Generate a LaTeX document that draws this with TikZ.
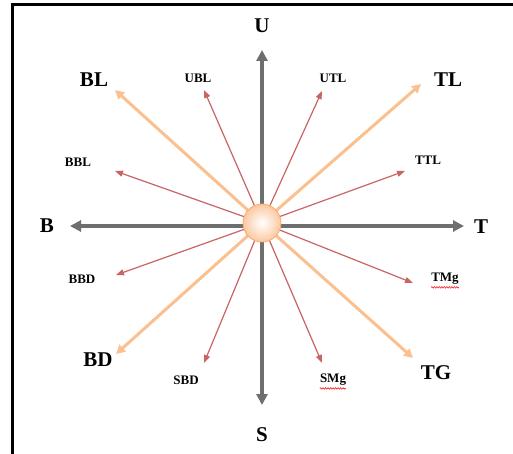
\documentclass[tikz,border=0pt]{standalone}
\usepackage{fontspec}
\setmainfont{Liberation Serif}
\usetikzlibrary{arrows.meta,decorations.pathmorphing}
\definecolor{axisgray}{RGB}{110,110,110}
\definecolor{peach}{RGB}{250,192,144}
\definecolor{redarr}{RGB}{200,100,98}
\definecolor{ballout}{RGB}{251,200,160}
\definecolor{balledge}{RGB}{247,170,110}
\tikzset{
  axisarrow/.style={draw=axisgray, line width=4pt, -{Triangle[length=11pt,width=11pt]}},
  mainarrow/.style={draw=peach, line width=3pt, -{Triangle[length=9pt,width=9pt]}},
  subarrow/.style={draw=redarr, line width=1.2pt, -{Triangle[length=8pt,width=6pt]}},
  biglabel/.style={font=\fontsize{21}{21}\selectfont\bfseries, inner sep=0pt},
  smalllabel/.style={font=\fontsize{13}{13}\selectfont\bfseries, inner sep=0pt},
  squiggle/.style={draw=red, line width=0.5pt, decorate, decoration={snake, amplitude=0.8pt, segment length=2.5pt}}
}
\begin{document}
\begin{tikzpicture}[x=1pt,y=-1pt]
\useasboundingbox (0,0) rectangle (513,454);
% frame (top and left only)
\draw[line width=3pt] (12,454) -- (12,5) -- (513,5);
% center
\coordinate (o) at (262,223);
\coordinate (oh) at (262,226);
% tips
\coordinate (tU) at (262,50);
\coordinate (tS) at (262,405);
\coordinate (tB) at (70,226);
\coordinate (tT) at (464,226);
\coordinate (tBL) at (115,90);
\coordinate (tTL) at (421,84);
\coordinate (tBD) at (116,354);
\coordinate (tTG) at (413,358);
\coordinate (tUBL) at (204,90);
\coordinate (tUTL) at (322,91);
\coordinate (tBBL) at (115,171);
\coordinate (tTTL) at (405,171);
\coordinate (tBBD) at (116,275);
\coordinate (tTMg) at (413,283);
\coordinate (tSBD) at (204,363);
\coordinate (tSMg) at (322,363);
% axes
\draw[axisarrow] (o) -- (tU);
\draw[axisarrow] (o) -- (tS);
\draw[axisarrow] (oh) -- (tB);
\draw[axisarrow] (oh) -- (tT);
% main arrows
\draw[mainarrow] (o) -- (tBL);
\draw[mainarrow] (o) -- (tTL);
\draw[mainarrow] (o) -- (tBD);
\draw[mainarrow] (o) -- (tTG);
% sub arrows
\draw[subarrow] (o) -- (tUBL);
\draw[subarrow] (o) -- (tUTL);
\draw[subarrow] (o) -- (tBBL);
\draw[subarrow] (o) -- (tTTL);
\draw[subarrow] (o) -- (tBBD);
\draw[subarrow] (o) -- (tTMg);
\draw[subarrow] (o) -- (tSBD);
\draw[subarrow] (o) -- (tSMg);
% ball
\node[circle, minimum size=38pt, inner sep=0pt, draw=balledge, line width=0.8pt,
      inner color=white, outer color=ballout] (ball) at (o) {};
% labels
\node[biglabel] (U) at (262,26) {U};
\node[biglabel] (S) at (262,435) {S};
\node[biglabel] (B) at (47,226) {B};
\node[biglabel] (T) at (481,227) {T};
\node[biglabel] (BL) at (94,80) {BL};
\node[biglabel] (TL) at (448,80) {TL};
\node[biglabel] (BD) at (98,360) {BD};
\node[biglabel] (TG) at (436,373) {TG};
\node[smalllabel] (UBL) at (198,78) {UBL};
\node[smalllabel] (UTL) at (333,78) {UTL};
\node[smalllabel] (BBL) at (78,162) {BBL};
\node[smalllabel] (TTL) at (428,160) {TTL};
\node[smalllabel] (BBD) at (82,279) {BBD};
\node[smalllabel] (TMg) at (445,279) {TMg};
\node[smalllabel] (SBD) at (186,380) {SBD};
\node[smalllabel] (SMg) at (333,380) {SMg};
% spell-check squiggles
\draw[squiggle] ([yshift=-2.5pt]TMg.south west) -- ([yshift=-2.5pt]TMg.south east);
\draw[squiggle] ([yshift=-2.5pt]SMg.south west) -- ([yshift=-2.5pt]SMg.south east);
\end{tikzpicture}
\end{document}
